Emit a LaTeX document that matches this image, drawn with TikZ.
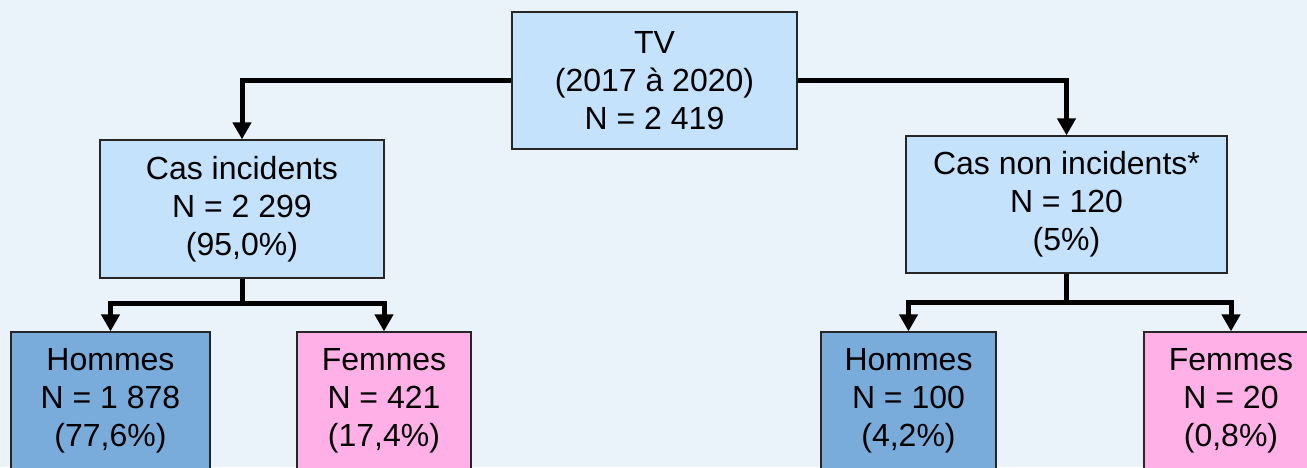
\documentclass[tikz,border=0pt]{standalone}
\usepackage{fontspec}
\setmainfont{Liberation Sans}
\usetikzlibrary{arrows.meta,calc}
\definecolor{bgcol}{RGB}{234,242,250}
\definecolor{boxcol}{RGB}{197,226,252}
\definecolor{mencol}{RGB}{122,172,219}
\definecolor{womcol}{RGB}{255,176,230}
\tikzset{
  box/.style={draw=black!85, line width=1.3pt, inner sep=0pt, align=center,
    font=\fontsize{32}{38}\selectfont, text=black},
  conn/.style={line width=5pt, line join=miter, -{Triangle[width=18pt,length=17pt]}},
  trunk/.style={line width=5pt}
}
\begin{document}
\begin{tikzpicture}[x=1pt,y=-1pt]
\useasboundingbox (0,0) rectangle (1307,467);
\fill[bgcol] (0,0) rectangle (1307,467);
\clip (0,0) rectangle (1307,467);
\node[box, fill=boxcol, minimum width=285pt, minimum height=137pt] (TV) at (654.5,80.5) {TV\\(2017 à 2020)\\N = 2 419};
\node[box, fill=boxcol, minimum width=284pt, minimum height=138pt] (CI) at (242,209) {Cas incidents\\N = 2 299\\(95,0\%)};
\node[box, fill=boxcol, minimum width=321pt, minimum height=137pt] (CNI) at (1066.5,204.5) {Cas non incidents*\\N = 120\\(5\%)};
\node[box, fill=mencol, minimum width=199pt, minimum height=138pt] (HL) at (110.5,401) {Hommes\\N = 1 878\\(77,6\%)};
\node[box, fill=womcol, minimum width=174pt, minimum height=138pt] (FL) at (384,401) {Femmes\\N = 421\\(17,4\%)};
\node[box, fill=mencol, minimum width=175pt, minimum height=138pt] (HR) at (908.5,401) {Hommes\\N = 100\\(4,2\%)};
\node[box, fill=womcol, minimum width=174pt, minimum height=138pt] (FR) at (1231,401) {Femmes\\N = 20\\(0,8\%)};
\draw[conn] (TV.west) -| (CI.north);
\draw[conn] (TV.east) -| (CNI.north);
\coordinate (j1) at ($(CI.south)+(0,25)$);
\coordinate (j2) at ($(CNI.south)+(0,29)$);
\draw[trunk] (CI.south) -- (j1);
\draw[conn] (j1) -| (HL.north);
\draw[conn] (j1) -| (FL.north);
\draw[trunk] (CNI.south) -- (j2);
\draw[conn] (j2) -| (HR.north);
\draw[conn] (j2) -| (FR.north);
\end{tikzpicture}
\end{document}
